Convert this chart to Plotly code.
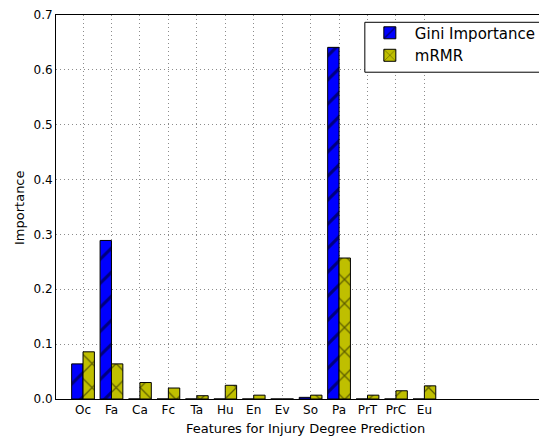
import plotly.graph_objects as go

categories = ["Oc", "Fa", "Ca", "Fc", "Ta", "Hu", "En", "Ev", "So", "Pa", "PrT", "PrC", "Eu"]
gini = [0.064, 0.289, 0.0, 0.0, 0.0, 0.0, 0.0, 0.0, 0.003, 0.641, 0.0, 0.0, 0.0]
mrmr = [0.086, 0.064, 0.030, 0.020, 0.006, 0.025, 0.007, 0.0, 0.007, 0.257, 0.007, 0.015, 0.024]
y_ticks = [0.0, 0.1, 0.2, 0.3, 0.4, 0.5, 0.6, 0.7]

xpos = list(range(len(categories)))
FONT = "DejaVu Sans"
GRID = "#8c8c8c"

fig = go.Figure()
fig.add_trace(go.Bar(
    x=xpos, y=gini, name="Gini Importance", width=0.4, offset=-0.4,
    marker=dict(color="#0000ff", line=dict(color="black", width=1),
                pattern=dict(shape="/", fgcolor="black", bgcolor="#0000ff",
                             size=17, solidity=0.18)),
))
fig.add_trace(go.Bar(
    x=xpos, y=mrmr, name="mRMR", width=0.4, offset=0.0,
    marker=dict(color="#bfbf00", line=dict(color="black", width=1),
                pattern=dict(shape="x", fgcolor="black", bgcolor="#bfbf00",
                             size=17, solidity=0.15)),
))

# The page has an 8px body margin, so the figure is 8px smaller than the window.
fig.update_layout(
    width=539, height=428,
    margin=dict(l=48, r=0, t=4, b=37),
    plot_bgcolor="white", paper_bgcolor="white",
    font=dict(family=FONT, size=12, color="black"),
    barmode="overlay",
    showlegend=True,
    legend=dict(x=0.629, y=0.996, xanchor="left", yanchor="top",
                bgcolor="rgba(0,0,0,0)", borderwidth=0,
                font=dict(family=FONT, size=15, color="black"),
                itemwidth=40),
    shapes=[
        dict(type="rect", xref="paper", yref="paper", x0=0.629, x1=1.05,
             y0=0.851, y1=0.981, fillcolor="white",
             line=dict(color="black", width=1), layer="above"),
    ],
    xaxis=dict(range=[-0.95, 16.31], tickmode="array", tickvals=xpos,
               ticktext=categories, showgrid=True, gridcolor=GRID,
               griddash="1px,3px", gridwidth=1, showline=True, linecolor="black",
               linewidth=1, mirror=True, zeroline=False, ticks=""),
    yaxis=dict(range=[0, 0.7], tickmode="array", tickvals=y_ticks,
               ticktext=[f"{v:.1f}" for v in y_ticks], showgrid=True,
               gridcolor=GRID, griddash="1px,3px", gridwidth=1,
               showline=True, linecolor="black", linewidth=1, mirror=False,
               zeroline=False, ticks="", ticklabeloverflow="allow"),
    annotations=[
        dict(text="Features for Injury Degree Prediction", xref="paper", yref="paper",
             x=0.509, y=-0.0762, xanchor="center", yanchor="middle",
             showarrow=False, font=dict(family=FONT, size=13)),
        dict(text="Importance", xref="paper", yref="paper",
             x=-0.0754, y=0.5, xanchor="center", yanchor="middle", textangle=-90,
             showarrow=False, font=dict(family=FONT, size=13)),
    ],
)

fig.write_html("out.html")
